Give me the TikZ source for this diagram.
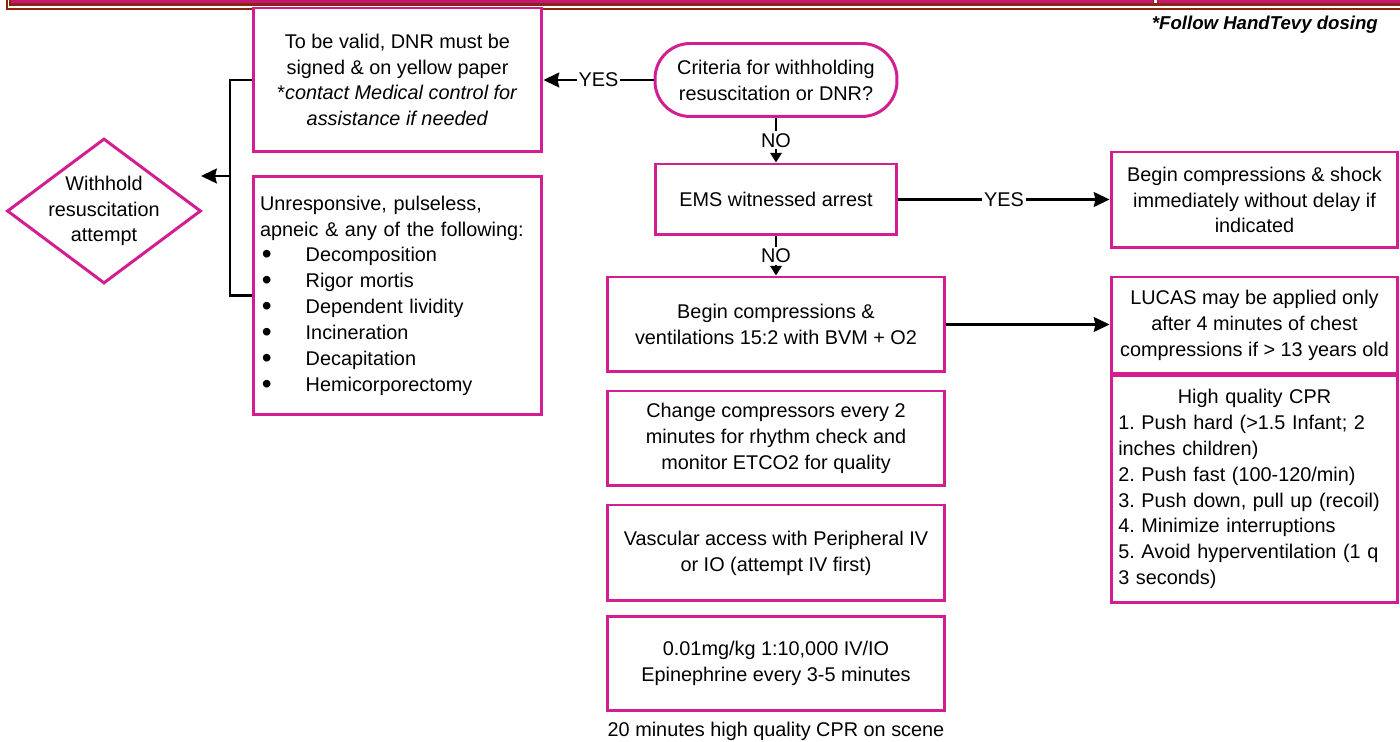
\documentclass[tikz,border=0pt]{standalone}
\usepackage{fontspec}
\setmainfont{Liberation Sans}
\usetikzlibrary{arrows.meta,shapes.geometric}

\definecolor{boxpink}{RGB}{210,30,145}
\definecolor{barpink}{RGB}{198,22,120}
\definecolor{barbrown}{RGB}{140,36,20}

\newcommand{\bul}{\makebox[26pt][l]{\hspace{1pt}\raisebox{-1.2pt}{\fontsize{16}{0}\selectfont\textbullet}}}

\tikzset{
  box/.style={draw=boxpink, line width=1.7pt, align=center, fill=white},
  term/.style={box, rounded corners=20pt},
  dia/.style={diamond, draw=boxpink, line width=1.7pt, inner sep=0pt},
  conn/.style={line width=1.2pt},
  bigarr/.style={conn, -{Stealth[length=9pt,width=8.5pt,inset=1pt]}},
  smallarr/.style={conn, -{Triangle[length=5.5pt,width=6.5pt]}},
  lbl/.style={fill=white, inner sep=1pt},
}

\begin{document}
\begin{tikzpicture}[x=0.02cm, y=-0.02cm, font=\fontsize{11.3}{14.7}\selectfont\frenchspacing]
    \useasboundingbox (0,0) rectangle (1400,742);
    % header bar
    \fill[barpink] (11,-5) rectangle (1400,4);
    \draw[barbrown, line width=1.2pt] (10,-5) |- (1400,4.5);
    \draw[barbrown, line width=1.2pt] (7,-5) |- (1400,9);
    \draw[white, line width=1.2pt] (1155.5,-5) -- (1155.5,3.5);
    \draw[barbrown, line width=0.8pt] (1153.5,-5) -- (1153.5,4);
    \draw[barbrown, line width=0.8pt] (1157.5,-5) -- (1157.5,4);
    \node[anchor=east, font=\fontsize{10.6}{13}\selectfont\bfseries\itshape] (handtevy) at (1384,25) {*Follow HandTevy dosing};

    % left column
    \node[term, minimum width=4.84cm, minimum height=1.46cm] (crit) at (776,80) {Criteria for withholding\\resuscitation or DNR?};
    \node[box, minimum width=5.78cm, minimum height=2.88cm] (dnr) at (397.5,80) {To be valid, DNR must be\\signed \& on yellow paper\\{}*\textit{contact Medical control for}\\\textit{assistance if needed}};
    \node[box, align=left, text width=5.5cm, minimum width=5.78cm, minimum height=4.78cm] (unresp) at (397.5,295.5) {Unresponsive, pulseless,\\apneic \& any of the following:\\\bul Decomposition\\\bul Rigor mortis\\\bul Dependent lividity\\\bul Incineration\\\bul Decapitation\\\bul Hemicorporectomy};
    \node[dia, minimum width=3.88cm, minimum height=2.9cm] (withhold) at (104,211) {};
    \node[align=center] (withholdtxt) at (withhold) {Withhold\\resuscitation\\attempt};

    % middle column
    \node[box, minimum width=4.84cm, minimum height=1.42cm] (ems) at (776,199.5) {EMS witnessed arrest};
    \node[box, minimum width=6.76cm, minimum height=1.9cm] (vent) at (776,324.5) {Begin compressions \&\\ventilations 15:2 with BVM + O2};
    \node[box, minimum width=6.76cm, minimum height=1.9cm] (change) at (776,438.5) {Change compressors every 2\\minutes for rhythm check and\\monitor ETCO2 for quality};
    \node[box, minimum width=6.76cm, minimum height=1.92cm] (vasc) at (776,553) {Vascular access with Peripheral IV\\or IO (attempt IV first)};
    \node[box, minimum width=6.76cm, minimum height=1.9cm] (epi) at (776,663.5) {0.01mg/kg 1:10,000 IV/IO\\Epinephrine every 3-5 minutes};
    \node (scene) at (776,731) {20 minutes high quality CPR on scene};

    % right column
    \node[box, minimum width=5.74cm, minimum height=1.92cm] (shock) at (1254.5,200) {Begin compressions \& shock\\immediately without delay if\\indicated};
    \node[box, minimum width=5.74cm, minimum height=1.94cm] (lucas) at (1254.5,325.5) {LUCAS may be applied only\\after 4 minutes of chest\\compressions if > 13 years old};
    \node[box, align=left, text width=5.45cm, minimum width=5.74cm, minimum height=4.56cm] (hqcpr) at (1254.5,489) {{\centering High quality CPR\par}1. Push hard (>1.5 Infant; 2\\inches children)\\2. Push fast (100-120/min)\\3. Push down, pull up (recoil)\\4. Minimize interruptions\\5. Avoid hyperventilation (1 q\\3 seconds)};

    % connectors
    \draw[bigarr] (crit.west) -- node[lbl] {YES} (dnr.east);
    \draw[smallarr] (crit.south) -- node[lbl] {NO} (ems.north);
    \draw[bigarr] (ems.east) -- node[lbl] {YES} (ems.east -| shock.west);
    \draw[smallarr] (ems.south) -- node[lbl] {NO} (vent.north);
    \draw[bigarr] (vent.east) -- (vent.east -| lucas.west);
    \coordinate (brk) at (230,176);
    \coordinate (brkend) at (201,176);
    \draw[conn] (dnr.west) -| (brk) |- (unresp.west);
    \draw[bigarr] (brk) -- (brkend);
\end{tikzpicture}
\end{document}
